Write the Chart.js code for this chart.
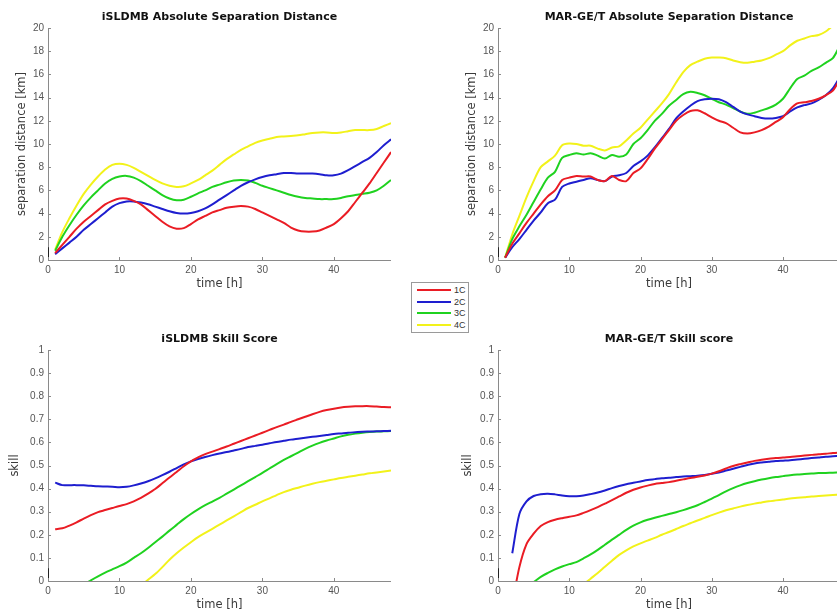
<!DOCTYPE html>
<html>
<head>
<meta charset="utf-8">
<script src="https://cdn.jsdelivr.net/npm/chart.js@4.4.1/dist/chart.umd.min.js"></script>
<style>
  html, body { margin: 0; padding: 0; background: #fff; overflow: hidden; }
  #stage { position: relative; width: 837px; height: 614px; overflow: hidden; }
  #stage canvas { position: absolute; }
  #legend { position: absolute; left: 411px; top: 282px; width: 56px; height: 49px;
            border: 1px solid #9a9a9a; background: #fff;
            font: 9px "Liberation Sans", Arial, sans-serif; color: #333; }
  .row { position: absolute; left: 5px; width: 50px; height: 10px; }
  .row i { position: absolute; left: 0; top: 4px; width: 34px; height: 2px; }
  .row span { position: absolute; left: 37px; top: 0; line-height: 10px; }
</style>
</head>
<body>
<div id="stage">
  <canvas id="c1"></canvas>
  <canvas id="c2"></canvas>
  <canvas id="c3"></canvas>
  <canvas id="c4"></canvas>
  <div id="legend"></div>
</div>
<script>
// ── Data ──────────────────────────────────────────────────────────────────────
const hours = [1,2,3,4,5,6,7,8,9,10,11,12,13,14,15,16,17,18,19,20,21,22,23,24,
               25,26,27,28,29,30,31,32,33,34,35,36,37,38,39,40,41,42,43,44,45,46,47,48];
const seriesNames = ['1C', '2C', '3C', '4C'];
const seriesColors = ['#ea1c24', '#1e1ecf', '#1fd21f', '#f2f21a'];

const xTicks = [0, 10, 20, 30, 40];
const distTicks = [0, 2, 4, 6, 8, 10, 12, 14, 16, 18, 20];
const skillTicks = [0, 0.1, 0.2, 0.3, 0.4, 0.5, 0.6, 0.7, 0.8, 0.9, 1];

// iSLDMB absolute separation distance [km]
const islRed    = [0.6,1.3,2.0,2.7,3.3,3.8,4.3,4.8,5.1,5.3, 5.3,5.1,4.8,4.3,3.8,3.3,2.9,2.7,2.75,3.1,
                   3.5,3.8,4.1,4.3,4.5,4.6,4.65,4.6,4.4,4.1, 3.8,3.5,3.2,2.8,2.55,2.45,2.45,2.55,2.8,3.1,
                   3.6,4.2,5.0,5.8,6.6,7.5,8.4,9.3];
const islBlue   = [0.5,1.0,1.5,2.0,2.6,3.1,3.6,4.1,4.6,4.9, 5.05,5.05,4.95,4.8,4.6,4.4,4.2,4.05,4.0,4.05,
                   4.2,4.45,4.8,5.2,5.6,6.0,6.4,6.7,6.95,7.15, 7.3,7.4,7.5,7.5,7.45,7.45,7.45,7.4,7.3,7.3,
                   7.45,7.75,8.1,8.45,8.8,9.3,9.9,10.4];
const islGreen  = [0.8,2.0,3.0,3.9,4.7,5.4,6.0,6.6,7.0,7.2, 7.25,7.1,6.8,6.4,6.0,5.6,5.3,5.15,5.2,5.45,
                   5.75,6.0,6.3,6.5,6.7,6.85,6.9,6.85,6.65,6.4, 6.2,6.0,5.8,5.6,5.45,5.35,5.3,5.25,5.25,5.25,
                   5.35,5.5,5.6,5.7,5.8,6.0,6.4,6.9];
const islYellow = [0.9,2.4,3.6,4.7,5.7,6.5,7.2,7.8,8.2,8.3, 8.2,7.95,7.6,7.25,6.9,6.6,6.4,6.3,6.35,6.6,
                   6.9,7.3,7.7,8.2,8.7,9.1,9.5,9.8,10.1,10.3, 10.45,10.6,10.65,10.7,10.75,10.85,10.95,11.0,11.0,10.95,
                   11.0,11.1,11.2,11.2,11.2,11.3,11.55,11.8];

// MAR-GE/T absolute separation distance [km]
const marRed    = [0.2,1.4,2.3,3.2,4.0,4.8,5.5,6.0,6.9,7.1, 7.25,7.2,7.2,6.9,6.8,7.25,6.9,6.8,7.5,7.9,
                   8.7,9.6,10.4,11.2,12.0,12.5,12.85,12.9,12.65,12.3, 12.0,11.8,11.4,11.0,10.9,11.0,11.2,11.5,11.9,12.3,
                   13.0,13.5,13.6,13.7,13.9,14.2,14.6,15.6];
const marBlue   = [0.2,1.1,1.8,2.6,3.4,4.1,4.9,5.2,6.3,6.6, 6.75,6.9,7.05,6.9,6.8,7.2,7.3,7.5,8.1,8.5,
                   9.0,9.7,10.5,11.3,12.2,12.8,13.3,13.7,13.85,13.9, 13.85,13.6,13.2,12.8,12.55,12.4,12.25,12.2,12.25,12.4,
                   12.8,13.15,13.35,13.5,13.8,14.2,14.8,15.8];
const marGreen  = [0.2,1.8,2.9,3.9,5.0,6.1,7.1,7.6,8.8,9.05, 9.2,9.1,9.2,9.0,8.75,9.05,8.9,9.1,10.0,10.5,
                   11.2,12.0,12.6,13.3,13.8,14.3,14.5,14.4,14.2,13.9, 13.6,13.4,13.1,12.8,12.6,12.7,12.9,13.1,13.4,13.9,
                   14.8,15.6,15.9,16.3,16.6,17.0,17.4,18.5];
const marYellow = [0.2,2.2,3.8,5.4,6.8,8.0,8.5,9.0,9.9,10.05, 10.0,9.85,9.85,9.6,9.45,9.7,9.8,10.3,10.9,11.4,
                   12.1,12.8,13.5,14.3,15.3,16.2,16.8,17.1,17.35,17.45, 17.45,17.4,17.2,17.05,17.0,17.1,17.2,17.4,17.7,18.0,
                   18.5,18.9,19.1,19.3,19.4,19.7,20.2,20.6];

// iSLDMB skill score
const islSkillRed    = [0.224,0.228,0.24,0.254,0.27,0.285,0.298,0.307,0.316,0.325, 0.333,0.345,0.36,0.378,0.398,0.423,0.448,0.472,0.497,0.518,
                        0.535,0.549,0.56,0.571,0.582,0.594,0.606,0.618,0.63,0.642, 0.654,0.666,0.677,0.689,0.7,0.711,0.722,0.732,0.74,0.746,
                        0.751,0.754,0.756,0.757,0.757,0.755,0.753,0.752];
const islSkillBlue   = [0.426,0.415,0.415,0.415,0.414,0.412,0.41,0.409,0.408,0.406, 0.408,0.414,0.422,0.432,0.444,0.458,0.473,0.489,0.505,0.518,
                        0.528,0.537,0.545,0.552,0.558,0.565,0.572,0.58,0.585,0.59, 0.596,0.602,0.607,0.612,0.616,0.62,0.624,0.628,0.632,0.636,
                        0.639,0.642,0.644,0.646,0.647,0.648,0.649,0.65];
const islSkillGreen  = [null,null,null,null,-0.015,0.003,0.02,0.036,0.05,0.064, 0.08,0.1,0.12,0.143,0.168,0.192,0.218,0.243,0.268,0.29,
                        0.31,0.328,0.344,0.36,0.378,0.396,0.414,0.432,0.45,0.468, 0.487,0.506,0.524,0.54,0.556,0.572,0.586,0.598,0.608,0.617,
                        0.626,0.633,0.638,0.642,0.645,0.647,0.648,0.649];
const islSkillYellow = [null,null,null,null,null,null,null,null,null,null, null,null,-0.02,0.005,0.03,0.06,0.092,0.12,0.145,0.168,
                        0.19,0.208,0.226,0.244,0.262,0.28,0.298,0.316,0.33,0.345, 0.358,0.372,0.385,0.395,0.404,0.413,0.421,0.428,0.434,0.44,
                        0.446,0.451,0.456,0.461,0.466,0.47,0.474,0.478];

// MAR-GE/T skill score
const marSkillRed    = [null,-0.1,0.06,0.16,0.205,0.238,0.255,0.265,0.272,0.278, 0.284,0.295,0.307,0.32,0.335,0.35,0.366,0.382,0.395,0.405,
                        0.413,0.42,0.424,0.428,0.434,0.44,0.446,0.451,0.457,0.465, 0.475,0.487,0.498,0.506,0.513,0.52,0.525,0.529,0.532,0.535,
                        0.537,0.54,0.543,0.546,0.549,0.551,0.554,0.556];
const marSkillBlue   = [null,0.12,0.29,0.345,0.368,0.376,0.378,0.375,0.37,0.367, 0.367,0.37,0.376,0.383,0.392,0.402,0.411,0.419,0.425,0.431,
                        0.437,0.441,0.445,0.447,0.45,0.452,0.454,0.456,0.459,0.464, 0.47,0.478,0.486,0.494,0.502,0.509,0.513,0.516,0.519,0.521,
                        0.523,0.526,0.529,0.532,0.535,0.538,0.54,0.542];
const marSkillGreen  = [null,null,null,null,-0.005,0.018,0.035,0.05,0.063,0.073, 0.082,0.098,0.115,0.135,0.157,0.179,0.2,0.221,0.24,0.254,
                        0.265,0.274,0.282,0.29,0.298,0.307,0.317,0.328,0.342,0.357, 0.372,0.388,0.402,0.414,0.424,0.432,0.439,0.445,0.45,0.454,
                        0.458,0.461,0.463,0.465,0.467,0.468,0.469,0.47];
const marSkillYellow = [null,null,null,null,null,null,null,null,null,null, null,-0.015,0.01,0.035,0.062,0.088,0.113,0.133,0.15,0.163,
                        0.175,0.187,0.2,0.212,0.225,0.238,0.25,0.262,0.273,0.285, 0.296,0.306,0.314,0.322,0.329,0.335,0.34,0.345,0.349,0.353,
                        0.357,0.36,0.363,0.366,0.368,0.37,0.372,0.374];

// short black stub drawn at t = 0 in every panel
const distStub = [0, 1.1];
const skillStub = [0, 0.055];

// ── Style ─────────────────────────────────────────────────────────────────────
const FONT = '"Liberation Sans", Arial, Helvetica, sans-serif';
const LABEL_FONT = '"DejaVu Sans", Verdana, sans-serif';
const AXIS_GREY = '#8a8a8a';
const TICK_GREY = '#555555';
const Y_AXIS_W = 40, TITLE_H = 28, X_AXIS_H = 32;

// chart areas as [left, top, right, bottom] in page pixels
const panels = [
  { id: 'c1', area: [48, 28, 391, 260], title: 'iSLDMB Absolute Separation Distance',
    yLabel: 'separation distance [km]', yTicks: distTicks, yMax: 20, yPad: 7.1,
    series: [islRed, islBlue, islGreen, islYellow], stub: distStub },
  { id: 'c2', area: [498, 28, 840, 260], title: 'MAR-GE/T Absolute Separation Distance',
    yLabel: 'separation distance [km]', yTicks: distTicks, yMax: 20, yPad: 7.1,
    series: [marRed, marBlue, marGreen, marYellow], stub: distStub },
  { id: 'c3', area: [48, 350, 391, 581], title: 'iSLDMB Skill Score',
    yLabel: 'skill', yTicks: skillTicks, yMax: 1, yPad: 0.2,
    series: [islSkillRed, islSkillBlue, islSkillGreen, islSkillYellow], stub: skillStub },
  { id: 'c4', area: [498, 350, 840, 581], title: 'MAR-GE/T Skill score',
    yLabel: 'skill', yTicks: skillTicks, yMax: 1, yPad: 3.1,
    series: [marSkillRed, marSkillBlue, marSkillGreen, marSkillYellow], stub: skillStub },
];

// MATLAB-style ticks pointing into the axes
const inwardTicks = {
  id: 'inwardTicks',
  afterDatasetsDraw(chart) {
    const { ctx, chartArea: a, scales: { x, y } } = chart;
    ctx.save();
    ctx.strokeStyle = AXIS_GREY;
    ctx.lineWidth = 1;
    ctx.beginPath();
    x.ticks.forEach(t => {
      const px = Math.round(x.getPixelForValue(t.value)) + 0.5;
      ctx.moveTo(px, a.bottom); ctx.lineTo(px, a.bottom - 3);
    });
    y.ticks.forEach(t => {
      const py = Math.round(y.getPixelForValue(t.value)) + 0.5;
      ctx.moveTo(a.left, py); ctx.lineTo(a.left + 3, py);
    });
    ctx.stroke();
    ctx.restore();
  }
};

function makePanel(p) {
  const [L, T, R, B] = p.area;
  const cv = document.getElementById(p.id);
  const w = R - L + Y_AXIS_W, h = B - T + TITLE_H + X_AXIS_H;
  cv.style.left = (L - Y_AXIS_W) + 'px';
  cv.style.top = (T - TITLE_H) + 'px';
  cv.style.width = w + 'px';
  cv.style.height = h + 'px';
  cv.width = w; cv.height = h;

  const datasets = p.series.map((vals, i) => ({
    label: seriesNames[i],
    data: vals.map((v, k) => ({ x: hours[k], y: v })),
    borderColor: seriesColors[i],
    borderWidth: 2,
    pointRadius: 0,
    tension: 0.3,
  }));
  datasets.push({
    label: '',
    data: p.stub.map(v => ({ x: 0, y: v })),
    borderColor: '#000',
    borderWidth: 1.5,
    pointRadius: 0,
  });

  return new Chart(cv, {
    type: 'line',
    data: { datasets },
    plugins: [inwardTicks],
    options: {
      responsive: false,
      animation: false,
      devicePixelRatio: 1,
      layout: { padding: 0 },
      plugins: {
        legend: { display: false },
        tooltip: { enabled: false },
        title: {
          display: true, text: p.title, fullSize: false, color: '#111',
          font: { family: LABEL_FONT, size: 11, weight: 'bold', lineHeight: 1 },
          padding: { top: 12, bottom: 5 },
        },
      },
      scales: {
        x: {
          type: 'linear', min: 0, max: 48,
          afterBuildTicks: s => { s.ticks = xTicks.map(v => ({ value: v })); },
          afterFit: s => { s.height = X_AXIS_H; },
          grid: { display: false, drawTicks: false },
          border: { color: AXIS_GREY, width: 1 },
          ticks: { color: TICK_GREY, padding: 4, font: { family: FONT, size: 10 } },
          title: { display: true, text: 'time [h]', color: '#3a3a3a', padding: { top: 0, bottom: 1.5 },
                   font: { family: LABEL_FONT, size: 11.5 } },
        },
        y: {
          min: 0, max: p.yMax,
          afterBuildTicks: s => { s.ticks = p.yTicks.map(v => ({ value: v })); },
          afterFit: s => { s.width = Y_AXIS_W; },
          grid: { display: false, drawTicks: false },
          border: { color: AXIS_GREY, width: 1 },
          ticks: { color: TICK_GREY, padding: 4, font: { family: FONT, size: 10 },
                   callback: v => String(v) },
          title: { display: true, text: p.yLabel, color: '#3a3a3a', padding: { top: p.yPad, bottom: 0 },
                   font: { family: LABEL_FONT, size: 11.5 } },
        },
      },
    },
  });
}

panels.forEach(makePanel);

// ── Legend ────────────────────────────────────────────────────────────────────
const legend = document.getElementById('legend');
seriesNames.forEach((name, i) => {
  const row = document.createElement('div');
  row.className = 'row';
  row.style.top = (2 + i * 11.7) + 'px';
  row.innerHTML = `<i style="background:${seriesColors[i]}"></i><span>${name}</span>`;
  legend.appendChild(row);
});
</script>
</body>
</html>
